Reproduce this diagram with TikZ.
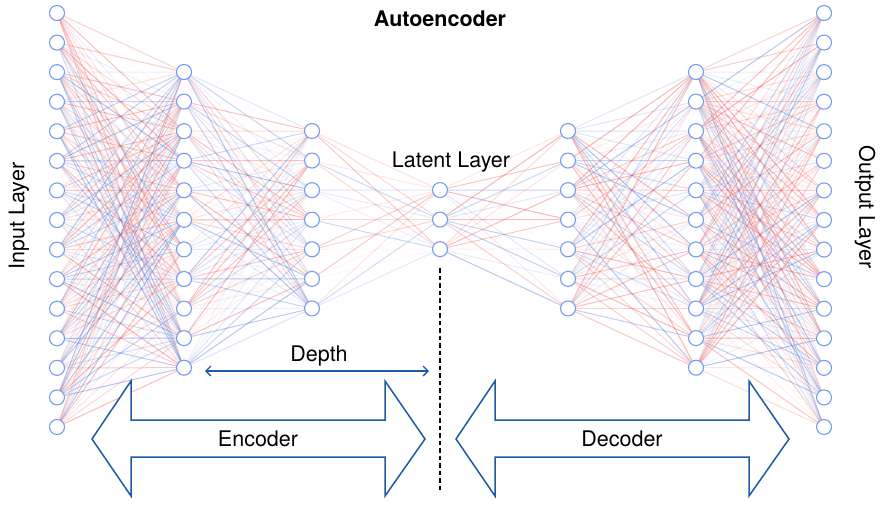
\documentclass[tikz,border=0pt]{standalone}
\usepackage{fontspec}
\setmainfont{TeX Gyre Heros}
\usetikzlibrary{arrows.meta}
\pgfdeclarelayer{background}
\pgfsetlayers{background,main}
\definecolor{nodeblue}{RGB}{120,155,240}
\definecolor{edgered}{RGB}{238,90,90}
\definecolor{edgeblue}{RGB}{85,120,215}
\definecolor{arrowblue}{RGB}{30,90,165}
\begin{document}
\begin{tikzpicture}[x=1pt,y=-1pt,
  neuron/.style={circle,draw=nodeblue,fill=white,line width=1.1pt,minimum size=15pt,inner sep=0pt},
  label/.style={font=\fontsize{21.5}{24}\selectfont,inner sep=0pt},
  bigarrow/.style={draw=arrowblue,line width=1.5pt,line join=miter,fill=white},
  depthline/.style={draw=arrowblue,line width=1.3pt,{Straight Barb[length=5pt,width=10pt]}-{Straight Barb[length=5pt,width=10pt]}},
  latentcut/.style={draw=black,line width=2.8pt,dash pattern=on 4.5pt off 3pt}]
\useasboundingbox (0,0) rectangle (889,504);
% neurons
\foreach \nm/\xx/\n/\yt in {a/57/15/13, b/184/11/72, c/312/7/131, d/440/3/190, e/568/7/131, f/696/11/72, g/824/15/13}{
  \foreach \i in {1,...,\n}{
    \node[neuron] (\nm\i) at (\xx,{\yt+(\i-1)*29.57}) {};
  }
}
% connections
\pgfmathsetseed{4242}
\begin{pgfonlayer}{background}
\foreach \p/\q/\np/\nq in {a/b/15/11, b/c/11/7, c/d/7/3, d/e/3/7, e/f/7/11, f/g/11/15}{
  \foreach \i in {1,...,\np}{
    \foreach \j in {1,...,\nq}{
      \pgfmathsetmacro\rc{rnd}
      \pgfmathsetmacro\ro{0.04+0.42*rnd}
      \ifdim\rc pt<0.52pt \def\ec{edgered}\else\def\ec{edgeblue}\fi
      \draw[\ec,line width=1pt,draw opacity=\ro] (\p\i.center) -- (\q\j.center);
    }
  }
}
\end{pgfonlayer}
% texts
\node[label,font=\bfseries\fontsize{21.5}{24}\selectfont] (title) at (440,19) {Autoencoder};
\node[label] (latent) at (451,162) {Latent Layer};
\node[label,rotate=90] (inlab) at (19,216) {Input Layer};
\node[label,rotate=-90] (outlab) at (865,207) {Output Layer};
% depth
\coordinate (depthL) at (205,371);
\coordinate (depthR) at (429,371);
\draw[depthline] (depthL) -- (depthR);
\node[label] (depth) at (319,356) {Depth};
% latent cut
\coordinate (cutTop) at (440,268);
\coordinate (cutBot) at (440,492);
\draw[latentcut] (cutTop) -- (cutBot);
% encoder / decoder arrows
\draw[bigarrow] (92,439) -- (131,381) -- (131,420) -- (385,420) -- (385,381) -- (425,439)
  -- (385,496) -- (385,457) -- (131,457) -- (131,496) -- cycle;
\node[label] (enc) at (258,439) {Encoder};
\draw[bigarrow] (456,439) -- (495,381) -- (495,420) -- (749,420) -- (749,381) -- (789,439)
  -- (749,496) -- (749,457) -- (495,457) -- (495,496) -- cycle;
\node[label] (dec) at (622,439) {Decoder};
\end{tikzpicture}
\end{document}
